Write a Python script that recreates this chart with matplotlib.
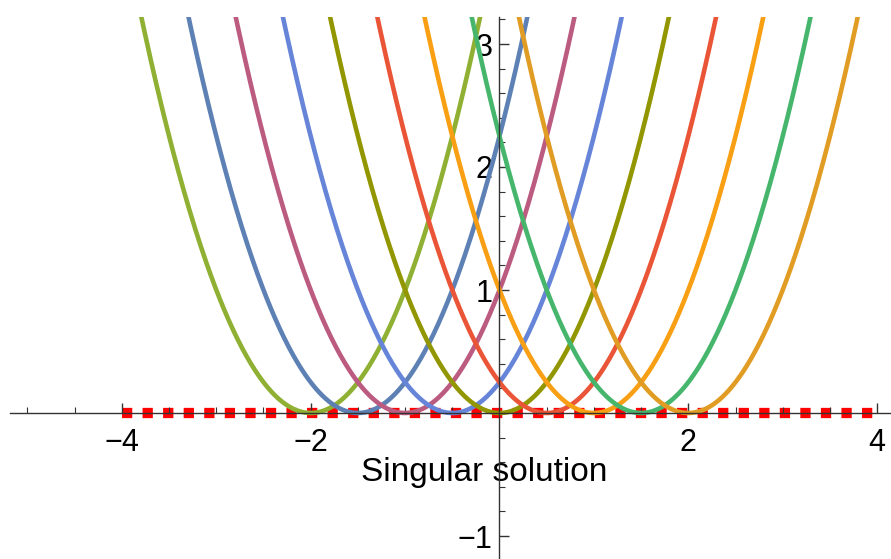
import matplotlib.pyplot as plt
import numpy as np

# Family of parabolas y = (x - c)^2 plus the singular solution y = 0
shifts = [-2.0, -1.5, -1.0, -0.5, 0.0, 0.5, 1.0, 1.5, 2.0]
colors = ['#8FB032', '#5E81B5', '#BC5B80', '#6685D9', '#929600',
          '#E95536', '#F89F13', '#47B66D', '#E19C24']
x_major = [-4, -2, 2, 4]
y_major = [-1, 1, 2, 3]
sing_x = [-4, 4]
sing_y = [0, 0]
label_text = 'Singular solution'

plt.rcParams['font.family'] = ['Liberation Sans', 'DejaVu Sans']

fig = plt.figure(figsize=(8.91, 5.59), dpi=100)
ax = fig.add_axes([0, 0, 1, 1 - 17 / 559])

xmin, xmax = -499.5 / 94.4, (891 - 499.5) / 94.4
ymin, ymax = -146 / 123, 396 / 123

x = np.linspace(xmin, xmax, 800)

# singular solution (red squares)
ax.plot(sing_x, sing_y, color='#FF0000', lw=7.4, linestyle=(0, (1, 1)),
        dash_capstyle='butt', zorder=1)

for c, col in zip(shifts, colors):
    ax.plot(x, (x - c) ** 2, color=col, lw=3.3, zorder=2)

ax.set_xlim(xmin, xmax)
ax.set_ylim(ymin, ymax)

# axes through the origin
for s in ['top', 'right']:
    ax.spines[s].set_visible(False)
ax.spines['left'].set_position(('data', 0))
ax.spines['bottom'].set_position(('data', 0))
ax.spines['bottom'].set_bounds(-5.19, xmax)
for s in ['left', 'bottom']:
    ax.spines[s].set_color('#333333')
    ax.spines[s].set_linewidth(1.0)
    ax.spines[s].set_zorder(3)

ax.set_xticks(x_major)
ax.set_xticks([v for v in np.arange(-5, 4.01, 0.5) if v not in x_major and v != 0], minor=True)
ax.set_yticks(y_major)
ax.set_yticks([round(v, 1) for v in np.arange(-1.0, 3.21, 0.2)
               if round(v, 1) not in y_major and round(v, 1) != 0], minor=True)
ax.set_xticklabels(['\u22124', '\u22122', '2', '4'])
ax.set_yticklabels(['\u22121', '1', '2', '3'])

ax.tick_params(axis='both', which='major', direction='in', length=7.5, width=1.0,
               color='#333333', labelsize=22)
ax.tick_params(axis='both', which='minor', direction='in', length=4, width=0.8,
               color='#333333')
ax.tick_params(axis='x', which='major', pad=11)
ax.tick_params(axis='y', which='major', pad=5)
for t in ax.get_xticklabels() + ax.get_yticklabels():
    t.set_zorder(4)

ax.text(-0.16, -0.553, label_text, fontsize=24, ha='center', va='baseline', zorder=0)

ax.patch.set_visible(False)
fig.savefig('out.png', dpi=100)
